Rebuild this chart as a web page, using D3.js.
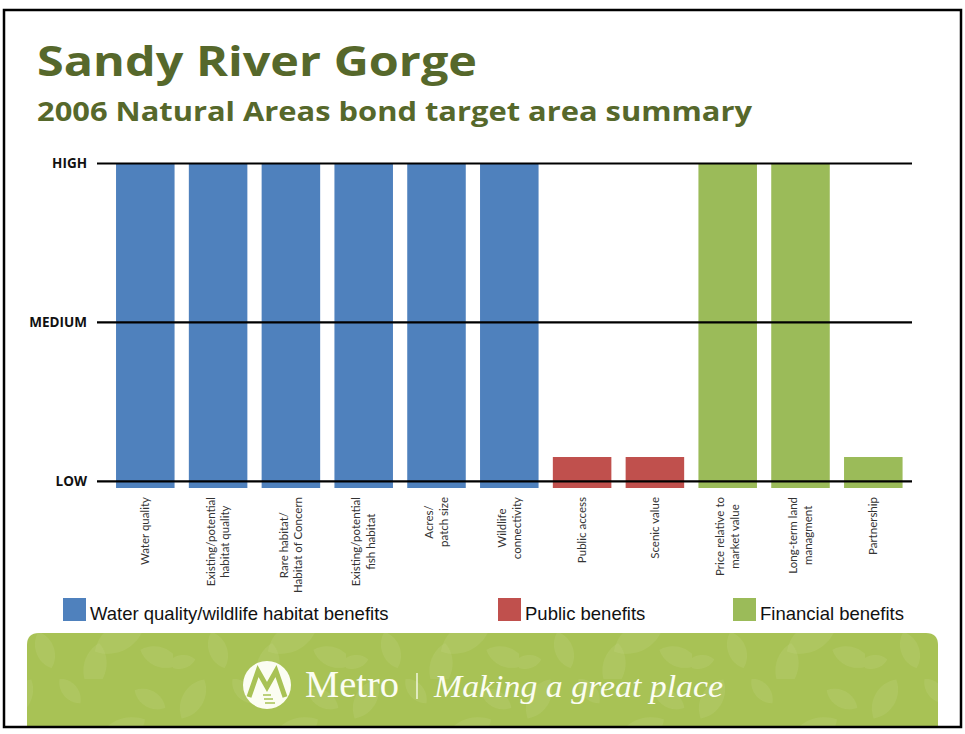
<!DOCTYPE html>
<html>
<head>
<meta charset="utf-8">
<script src="https://cdn.jsdelivr.net/npm/d3@7"></script>
<style>
  html, body { margin: 0; padding: 0; background: #fff; }
  svg { display: block; }
</style>
</head>
<body>
<svg id="chart" width="965" height="734"></svg>
<script>
// ---------- data ----------
const categories = [
  "Water quality",
  "Existing/potential\nhabitat quality",
  "Rare habitat/\nHabitat of Concern",
  "Existing/potential\nfish habitat",
  "Acres/\npatch size",
  "Wildlife\nconnectivity",
  "Public access",
  "Scenic value",
  "Price relative to\nmarket value",
  "Long-term land\nmanagment",
  "Partnership"
];
const groups = ["habitat","habitat","habitat","habitat","habitat","habitat",
                "public","public","financial","financial","financial"];
// rating on LOW(0) / MEDIUM(1) / HIGH(2) scale
const values = [2, 2, 2, 2, 2, 2, 0.15, 0.15, 2, 2, 0.15];
const levelValues = [0, 1, 2];
const levelLabels = ["LOW", "MEDIUM", "HIGH"];
const legendKeys = ["habitat", "public", "financial"];
const legendLabels = ["Water quality/wildlife habitat benefits", "Public benefits", "Financial benefits"];
const groupColors = ["#4f81bd", "#c0504d", "#9bbb59"];

// ---------- setup ----------
const svg = d3.select("#chart");
const olive = "#56682b";
const color = d3.scaleOrdinal().domain(legendKeys).range(groupColors);

// Title
svg.append("text").attr("x", 37).attr("y", 76)
  .attr("font-family", "'Open Sans', Lato, sans-serif").attr("font-weight", 700)
  .attr("font-size", 41).attr("fill", olive)
  .attr("textLength", 440).attr("lengthAdjust", "spacingAndGlyphs")
  .text("Sandy River Gorge");
svg.append("text").attr("x", 37).attr("y", 121)
  .attr("font-family", "'Open Sans', Lato, sans-serif").attr("font-weight", 700)
  .attr("font-size", 27).attr("fill", olive)
  .attr("textLength", 715).attr("lengthAdjust", "spacingAndGlyphs")
  .text("2006 Natural Areas bond target area summary");

// Scales
const x = d3.scaleBand().domain(categories).range([108.9, 909.7])
  .paddingInner(0.196).paddingOuter(0.098);
const y = d3.scaleLinear().domain([-0.045, 2]).range([488, 163]);

// Bars
svg.append("g").selectAll("rect").data(categories).join("rect")
  .attr("x", d => x(d))
  .attr("width", x.bandwidth())
  .attr("y", (d, i) => y(values[i]))
  .attr("height", (d, i) => y(y.domain()[0]) - y(values[i]))
  .attr("fill", (d, i) => color(groups[i]));

// Level lines + labels (drawn over bars)
const yAxis = d3.axisLeft(y).tickValues(levelValues)
  .tickFormat((d, i) => levelLabels[i])
  .tickSizeInner(-(912 - 97)).tickSizeOuter(0).tickPadding(10);
const ag = svg.append("g").attr("transform", "translate(97,0)").call(yAxis);
ag.select(".domain").remove();
ag.selectAll(".tick line").attr("stroke", "#000").attr("stroke-width", 2.2);
ag.selectAll(".tick text")
  .attr("font-family", "'Open Sans', Lato, sans-serif").attr("font-weight", 700)
  .attr("font-size", 13.5).attr("fill", "#111");

// Category labels (rotated)
const lg = svg.append("g");
categories.forEach(c => {
  const lines = c.split("\n");
  const cx = x(c) + x.bandwidth() / 2;
  const g = lg.append("g");
  const t = g.append("text")
    .attr("font-family", "Lato, 'Open Sans', sans-serif")
    .attr("font-size", 11.5).attr("fill", "#333")
    .attr("text-anchor", "middle");
  const n = lines.length;
  lines.forEach((ln, j) => {
    t.append("tspan").attr("x", 0).attr("y", (j - (n - 1) / 2) * 14.5 + 4).text(ln);
  });
  let maxW = 0;
  t.selectAll("tspan").each(function () { maxW = Math.max(maxW, this.getComputedTextLength()); });
  g.attr("transform", `translate(${cx},${497 + maxW / 2}) rotate(-90)`);
});

// Legend
const legendX = [63, 498, 733];
const leg = svg.append("g");
legendKeys.forEach((k, i) => {
  leg.append("rect").attr("x", legendX[i]).attr("y", 598).attr("width", 23).attr("height", 23)
    .attr("fill", color(k));
  leg.append("text").attr("x", legendX[i] + 27).attr("y", 620)
    .attr("font-family", "'Liberation Sans', Arial, sans-serif").attr("font-size", 18.5)
    .attr("fill", "#111").text(legendLabels[i]);
});

// Footer band
const defs = svg.append("defs");
const pat = defs.append("pattern").attr("id", "leaves").attr("patternUnits", "userSpaceOnUse")
  .attr("width", 173).attr("height", 97);
const leafSpecs = [[20,20,30,1.4],[70,12,-40,1.0],[120,55,60,1.8],[45,68,-20,1.2],
                   [8,80,80,0.9],[95,85,10,1.5],[150,20,120,1.1],[160,75,-70,1.3]];
leafSpecs.forEach(([lx, ly, r, s]) => {
  pat.append("path")
    .attr("d", "M0,-16 C10,-8 10,8 0,16 C-10,8 -10,-8 0,-16Z")
    .attr("transform", `translate(${lx},${ly}) rotate(${r}) scale(${s})`)
    .attr("fill", "#bdd27c").attr("opacity", 0.3);
});
const fx0 = 27, fx1 = 938, fy0 = 633, fy1 = 727, rr = 12;
const fp = d3.path();
fp.moveTo(fx0, fy1); fp.lineTo(fx0, fy0 + rr);
fp.quadraticCurveTo(fx0, fy0, fx0 + rr, fy0);
fp.lineTo(fx1 - rr, fy0);
fp.quadraticCurveTo(fx1, fy0, fx1, fy0 + rr);
fp.lineTo(fx1, fy1); fp.closePath();
svg.append("path").attr("d", fp.toString()).attr("fill", "#a8c255");
svg.append("path").attr("d", fp.toString()).attr("fill", "url(#leaves)");

// Logo
const logo = svg.append("g").attr("transform", "translate(267,685)");
logo.append("circle").attr("r", 24).attr("fill", "#fbfdf2");
logo.append("path").attr("d", "M-18,12 L-9,-14 L0,2 L9,-14 L18,12")
  .attr("fill", "none").attr("stroke", "#a8c255").attr("stroke-width", 5).attr("stroke-linejoin", "miter");
logo.append("path").attr("d", "M-4,10 L4,10 M-3,14 L6,14 M-2,18 L8,18")
  .attr("stroke", "#a8c255").attr("stroke-width", 1.5);

svg.append("text").attr("x", 305).attr("y", 697)
  .attr("font-family", "'Liberation Serif', 'DejaVu Serif', serif").attr("font-size", 37)
  .attr("fill", "#fbfdf2").attr("textLength", 94).attr("lengthAdjust", "spacingAndGlyphs")
  .text("Metro");
svg.append("line").attr("x1", 417).attr("x2", 417).attr("y1", 673).attr("y2", 699)
  .attr("stroke", "#fbfdf2").attr("stroke-width", 1.3);
svg.append("text").attr("x", 434).attr("y", 697)
  .attr("font-family", "'Liberation Serif', 'DejaVu Serif', serif").attr("font-style", "italic")
  .attr("font-size", 31).attr("fill", "#fbfdf2")
  .attr("textLength", 289).attr("lengthAdjust", "spacingAndGlyphs")
  .text("Making a great place");

// Slide border
svg.append("rect").attr("x", 4).attr("y", 10).attr("width", 957).attr("height", 717)
  .attr("fill", "none").attr("stroke", "#000").attr("stroke-width", 2.5);
</script>
</body>
</html>
